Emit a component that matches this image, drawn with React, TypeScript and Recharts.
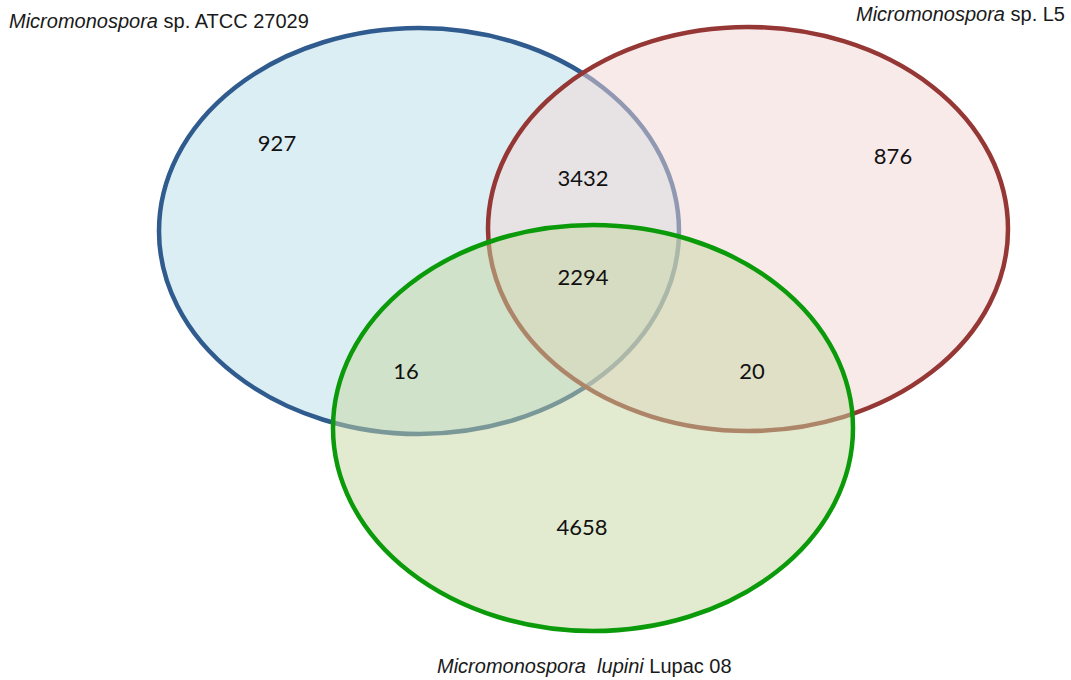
import { Scatter, ScatterChart, XAxis, YAxis } from "recharts";

const W = 1071;
const H = 680;

// sets (genus in italic, rest upright)
const setItalic = ["Micromonospora", "Micromonospora", "Micromonospora\u00a0 lupini"];
const setRest = [" sp. ATCC 27029", " sp. L5", " Lupac 08"];
const setFill = ["#b7dde8", "#f3d5d5", "#c5d59f"];
const setStroke = ["#2f5b8f", "#953735", "#0a9a0a"];

// ellipse layout in chart units
const ellipseCx = [419, 748, 593];
const ellipseCy = [231, 229, 428];
const ellipseRx = [260, 260, 260];
const ellipseRy = [203, 202, 203];

// name label anchors
const nameX = [9, 1065, 437];
const nameY = [28, 21, 673];
const nameAnchor = ["start", "end", "start"];

// region counts
const regions = ["ATCC only", "ATCC∩L5", "L5 only", "all", "ATCC∩lupini", "L5∩lupini", "lupini only"];
const counts = [927, 3432, 876, 2294, 16, 20, 4658];
const countX = [277, 583, 893, 583, 406, 752, 582];
const countY = [142, 177, 155, 276, 370, 370, 526];

if (typeof document !== "undefined") document.body.style.margin = "0";

const Ellipse = (props: any) => {
  const { cx, cy, payload } = props;
  return (
    <ellipse
      cx={cx}
      cy={cy}
      rx={payload.rx}
      ry={payload.ry}
      fill={payload.fill}
      fillOpacity={0.5}
      stroke={payload.stroke}
      strokeWidth={4.5}
    />
  );
};

const CountLabel = (props: any) => {
  const { cx, cy, payload } = props;
  return (
    <text
      x={cx}
      y={cy}
      textAnchor="middle"
      dominantBaseline="central"
      fontFamily="Lato, 'Open Sans', sans-serif"
      fontSize={22}
      fill="#111"
    >
      {payload.count}
    </text>
  );
};

const NameLabel = (props: any) => {
  const { cx, cy, payload } = props;
  return (
    <text
      x={cx}
      y={cy}
      textAnchor={payload.anchor}
      fontFamily="'Liberation Sans', Arial, sans-serif"
      fontSize={20}
      fill="#1a1a1a"
    >
      <tspan fontStyle="italic">{payload.italic}</tspan>
      <tspan>{payload.rest}</tspan>
    </text>
  );
};

export default function App() {
  const ellipses = setItalic.map((_, i) => [
    {
      x: ellipseCx[i],
      y: ellipseCy[i],
      rx: ellipseRx[i],
      ry: ellipseRy[i],
      fill: setFill[i],
      stroke: setStroke[i],
    },
  ]);
  const countData = counts.map((c, i) => ({
    x: countX[i],
    y: countY[i],
    count: c,
    region: regions[i],
  }));
  const nameData = setItalic.map((it, i) => ({
    x: nameX[i],
    y: nameY[i],
    italic: it,
    rest: setRest[i],
    anchor: nameAnchor[i],
  }));

  return (
    <div style={{ width: W, height: H, background: "#fff" }}>
      <ScatterChart width={W} height={H} margin={{ top: 0, right: 0, bottom: 0, left: 0 }}>
        <XAxis type="number" dataKey="x" domain={[0, W]} hide />
        <YAxis type="number" dataKey="y" domain={[0, H]} reversed hide />
        {ellipses.map((d, i) => (
          <Scatter key={i} data={d} shape={Ellipse} isAnimationActive={false} />
        ))}
        <Scatter data={countData} shape={CountLabel} isAnimationActive={false} />
        <Scatter data={nameData} shape={NameLabel} isAnimationActive={false} />
      </ScatterChart>
    </div>
  );
}
